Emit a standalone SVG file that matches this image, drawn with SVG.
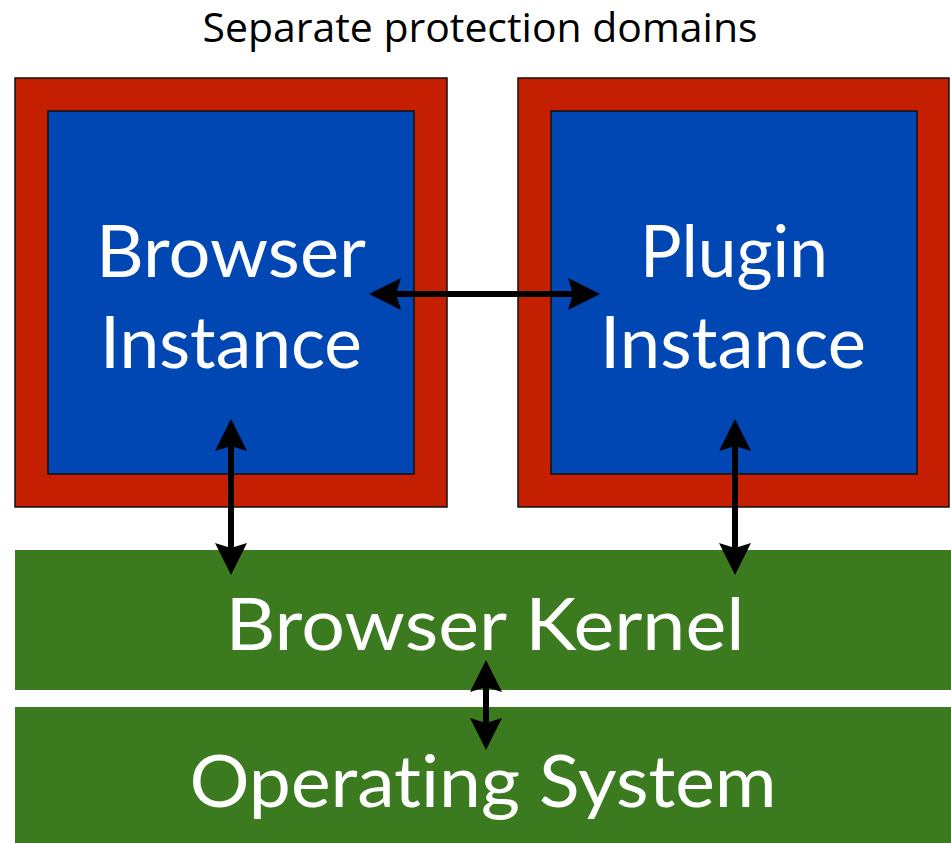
<svg xmlns="http://www.w3.org/2000/svg" width="951" height="843" viewBox="0 0 951 843">
  <style>
    .domain { fill: #C41F00; stroke: #111; stroke-width: 1.5; }
    .inst { fill: #0047B3; stroke: #111; stroke-width: 1.5; }
    .layer { fill: #3B7A1E; }
    .big { font-family: Lato, "Open Sans", sans-serif; font-size: 72px; fill: #fff; text-anchor: middle; font-variant-ligatures: none; }
    .title { font-family: "Open Sans", "Liberation Sans", sans-serif; font-size: 40px; fill: #000; text-anchor: middle; }
    .conn { stroke: #000; stroke-width: 6; fill: none; marker-start: url(#head); marker-end: url(#head); }
  </style>
  <defs>
    <marker id="head" markerUnits="userSpaceOnUse" viewBox="0 0 32 32" markerWidth="32" markerHeight="32" refX="5" refY="16" orient="auto-start-reverse">
      <path d="M32,16 L0,0 L5,16 L0,32 Z" fill="#000"/>
    </marker>
  </defs>

  <text class="title" x="480" y="42" textLength="555" lengthAdjust="spacingAndGlyphs">Separate protection domains</text>

  <g id="browser-instance">
    <rect class="domain" x="15" y="78" width="432" height="429"/>
    <rect class="inst" x="48" y="111" width="366" height="363"/>
    <text class="big" x="231" y="277" textLength="270" lengthAdjust="spacingAndGlyphs">Browser</text>
    <text class="big" x="231" y="368" textLength="262" lengthAdjust="spacingAndGlyphs">Instance</text>
  </g>

  <g id="plugin-instance">
    <rect class="domain" x="518" y="78" width="431" height="429"/>
    <rect class="inst" x="551" y="111" width="366" height="363"/>
    <text class="big" x="734" y="277" textLength="188" lengthAdjust="spacingAndGlyphs">Plugin</text>
    <text class="big" x="733" y="368" textLength="266" lengthAdjust="spacingAndGlyphs">Instance</text>
  </g>

  <g id="browser-kernel">
    <rect class="layer" x="15" y="550" width="936" height="140"/>
    <text class="big" x="485" y="650" textLength="519" lengthAdjust="spacingAndGlyphs">Browser Kernel</text>
  </g>

  <g id="operating-system">
    <rect class="layer" x="15" y="707" width="936" height="136"/>
    <text class="big" x="483" y="807" font-size="74" textLength="587" lengthAdjust="spacingAndGlyphs">Operating System</text>
  </g>

  <g id="connectors">
    <line class="conn" x1="396" y1="294" x2="573" y2="294"/>
    <line class="conn" x1="231" y1="446" x2="231" y2="548"/>
    <line class="conn" x1="735" y1="446" x2="735" y2="548"/>
    <line class="conn" x1="486" y1="687" x2="486" y2="723"/>
  </g>
</svg>
